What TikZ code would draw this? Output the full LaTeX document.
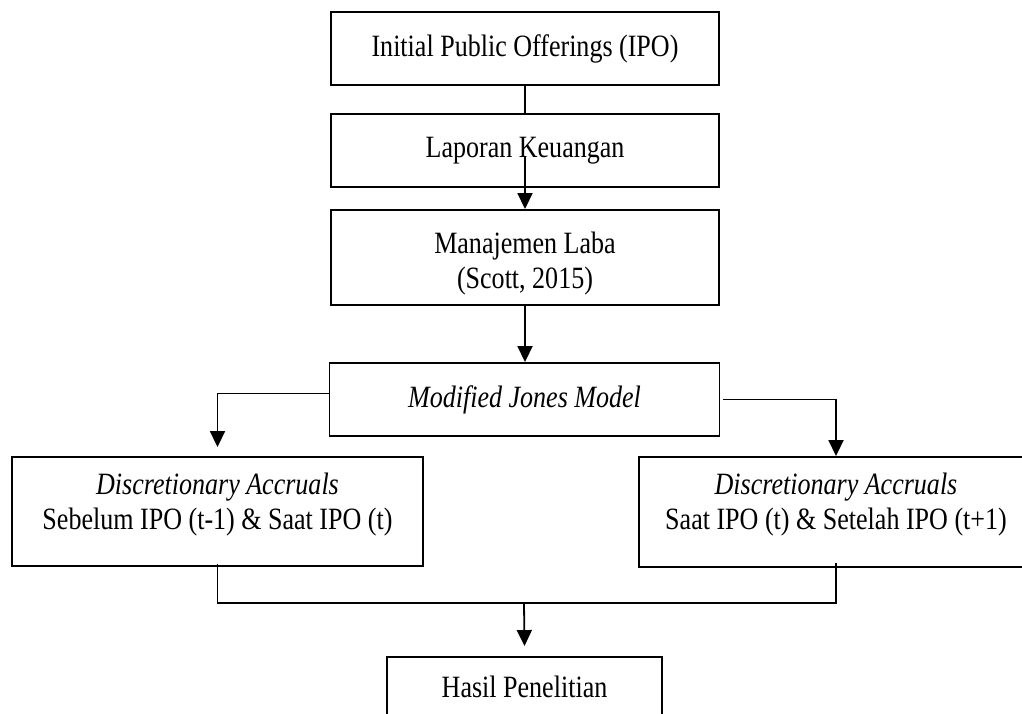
\documentclass[tikz,border=0pt]{standalone}
\usepackage{fontspec}
\setmainfont{Liberation Serif}[FakeStretch=0.84]
\usetikzlibrary{arrows.meta}
\begin{document}
\begin{tikzpicture}[x=1pt,y=-1pt,
  box/.style={draw, line width=1.9pt, minimum width=#1, inner sep=0pt},
  txt/.style={font=\fontsize{31}{35}\selectfont, align=center, inner sep=0pt},
  conn/.style={line width=1.8pt},
  arr/.style={line width=1.8pt, -{Triangle[width=15pt,length=16pt]}}]
\clip (0,0) rectangle (1022,714);
\fill[white] (0,0) rectangle (1022,714);
% boxes
\node[box=388pt, minimum height=73pt] (ipo) at (525,48.5) {};
\node[txt] at (525,48.5) {Initial Public Offerings (IPO)};
\node[box=388pt, minimum height=73pt] (lap) at (525,150.5) {};
\node[txt] at (525,150.5) {Laporan Keuangan};
\node[box=388pt, minimum height=95pt] (ml) at (525,257.5) {};
\node[txt] at (525,264) {Manajemen Laba\\(Scott, 2015)};
\node[box=390pt, minimum height=73pt] (mod) at (524.5,399.5) {};
\node[txt] at (524.5,400) {\itshape Modified Jones Model};
\node[box=411pt, minimum height=109pt] (left) at (217.5,511.5) {};
\node[txt] at (217.5,504.5) {\itshape Discretionary Accruals\\Sebelum IPO (t-1) \& Saat IPO (t)};
\node[box=394pt, minimum height=110pt] (right) at (836,512) {};
\node[txt] at (836,504.5) {\itshape Discretionary Accruals\\Saat IPO (t) \& Setelah IPO (t+1)};
\node[box=275pt, minimum height=66pt] (res) at (524.5,690) {};
\node[txt] at (524.5,687) {Hasil Penelitian};
% connectors
\coordinate (k) at (525,157);
\coordinate (m) at (524,603);
\draw[conn] (ipo.south) -- (lap.north);
\draw[arr] (k) -- (ml.north);
\draw[arr] (ml.south) -- (ml.south |- mod.north);
\draw[arr] ([yshift=6pt]mod.west) -| ([yshift=9pt]left.north);
\draw[arr] ([xshift=3pt]mod.east) -| (right.north);
\draw[conn] ([yshift=3pt]left.south) |- (m) -| ([yshift=5pt]right.south);
\draw[arr] (m) -- ([yshift=10pt]res.north);
\end{tikzpicture}
\end{document}
